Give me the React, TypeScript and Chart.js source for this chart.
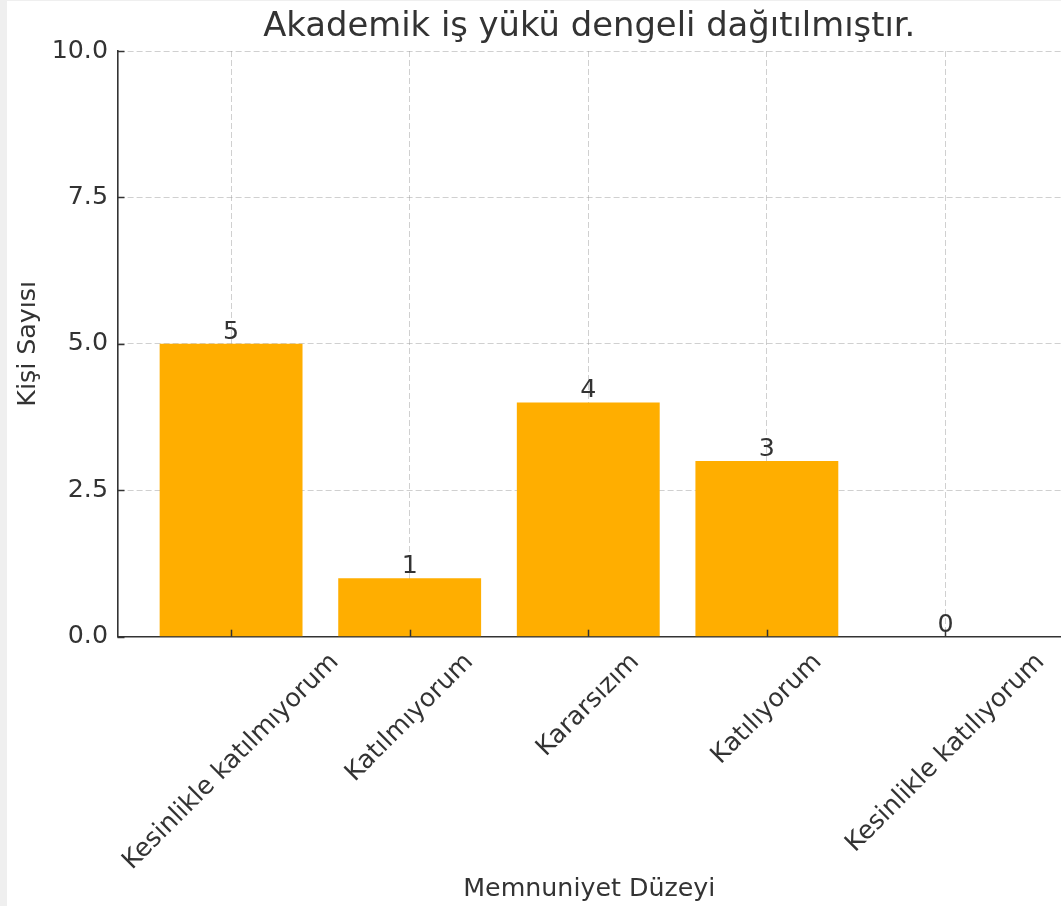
import React, { useEffect, useRef } from "react";
import { Chart, registerables } from "chart.js";

Chart.register(...registerables);

const TITLE = "Akademik iş yükü dengeli dağıtılmıştır.";
const X_TITLE = "Memnuniyet Düzeyi";
const Y_TITLE = "Kişi Sayısı";
const categories = [
  "Kesinlikle katılmıyorum",
  "Katılmıyorum",
  "Kararsızım",
  "Katılıyorum",
  "Kesinlikle katılıyorum",
];
const counts = [5, 1, 4, 3, 0];
const yTicks = [0, 2.5, 5, 7.5, 10];

const FONT = "'DejaVu Sans', sans-serif";
const FS = 25.3;
const TEXT = "#333333";
const GRID = "rgba(150,150,150,0.45)";
const BAR = "#ffae00";

const overlay = {
  id: "overlay",
  afterDraw(chart: any) {
    const ctx = chart.ctx as CanvasRenderingContext2D;
    const xs = chart.scales.x;
    const ys = chart.scales.y;
    const area = chart.chartArea;
    ctx.save();
    // inward tick marks
    ctx.strokeStyle = TEXT;
    ctx.lineWidth = 1.5;
    categories.forEach((_, i) => {
      const x = Math.round(xs.getPixelForValue(i)) + 0.5;
      ctx.beginPath();
      ctx.moveTo(x, area.bottom);
      ctx.lineTo(x, area.bottom - 7);
      ctx.stroke();
    });
    yTicks.forEach((v) => {
      const y = Math.round(ys.getPixelForValue(v)) + 0.5;
      ctx.beginPath();
      ctx.moveTo(area.left, y);
      ctx.lineTo(area.left + 7, y);
      ctx.stroke();
    });
    // value labels
    ctx.fillStyle = TEXT;
    ctx.font = `${FS}px ${FONT}`;
    ctx.textAlign = "center";
    ctx.textBaseline = "alphabetic";
    const meta = chart.getDatasetMeta(0);
    meta.data.forEach((el: any, i: number) => {
      ctx.fillText(String(counts[i]), el.x, el.y - 5);
    });
    // rotated category labels (centered under tick)
    categories.forEach((lab, i) => {
      const x = xs.getPixelForValue(i);
      const w = ctx.measureText(lab).width;
      const h = FS * 1.17;
      const cy = area.bottom + 11 + ((w + h) * Math.SQRT1_2) / 2;
      ctx.save();
      ctx.translate(x, cy);
      ctx.rotate(-Math.PI / 4);
      ctx.textAlign = "center";
      ctx.textBaseline = "middle";
      ctx.fillText(lab, 0, 0);
      ctx.restore();
    });
    ctx.restore();
  },
};

export default function App() {
  const ref = useRef<HTMLCanvasElement>(null);

  useEffect(() => {
    document.body.style.margin = "0";
    document.body.style.background = "#efefef";
    document.body.style.overflow = "hidden";
    if (!ref.current) return;
    const chart = new Chart(ref.current, {
      type: "bar",
      data: {
        datasets: [
          {
            data: counts.map((v, i) => ({ x: i, y: v })),
            backgroundColor: BAR,
            borderWidth: 0,
            barPercentage: 0.8,
            categoryPercentage: 1.0,
          },
        ],
      },
      options: {
        responsive: false,
        animation: false,
        devicePixelRatio: 1,
        layout: { padding: 0 },
        plugins: {
          legend: { display: false },
          tooltip: { enabled: false },
          title: {
            display: true,
            text: TITLE,
            color: TEXT,
            fullSize: false,
            font: { family: FONT, size: 33.8, weight: "normal" },
            padding: { top: 5.7, bottom: 3.74 },
          },
        },
        scales: {
          x: {
            type: "linear",
            min: -0.636,
            max: 4.647,
            offset: false,
            z: 1,
            afterBuildTicks: (s: any) => {
              s.ticks = categories.map((_, i) => ({ value: i }));
            },
            afterFit: (s: any) => {
              s.height = 269.3;
            },
            ticks: { display: false },
            grid: { color: GRID, lineWidth: 1, drawTicks: false, offset: false },
            border: { display: true, color: TEXT, width: 1.6, dash: [6, 3] },
            title: {
              display: true,
              text: X_TITLE,
              color: TEXT,
              font: { family: FONT, size: FS },
              padding: { top: 0, bottom: 1.27 },
            },
          },
          y: {
            type: "linear",
            min: 0,
            max: 10,
            afterBuildTicks: (s: any) => {
              s.ticks = yTicks.map((v) => ({ value: v }));
            },
            afterFit: (s: any) => {
              s.width = 110.5;
            },
            ticks: {
              color: TEXT,
              font: { family: FONT, size: FS },
              padding: 9.5,
              callback: (v: any) => Number(v).toFixed(1),
            },
            grid: { color: GRID, lineWidth: 1, drawTicks: false },
            border: { display: true, color: TEXT, width: 1.6, dash: [6, 3] },
            title: {
              display: true,
              text: Y_TITLE,
              color: TEXT,
              font: { family: FONT, size: FS },
              padding: { top: 5.8, bottom: 0 },
            },
          },
        },
      } as any,
      plugins: [overlay],
    });
    return () => chart.destroy();
  }, []);

  return (
    <div style={{ padding: "1px 0 0 7px" }}>
      <canvas
        ref={ref}
        width={1054}
        height={905}
        style={{ display: "block", background: "#ffffff" }}
      />
    </div>
  );
}
